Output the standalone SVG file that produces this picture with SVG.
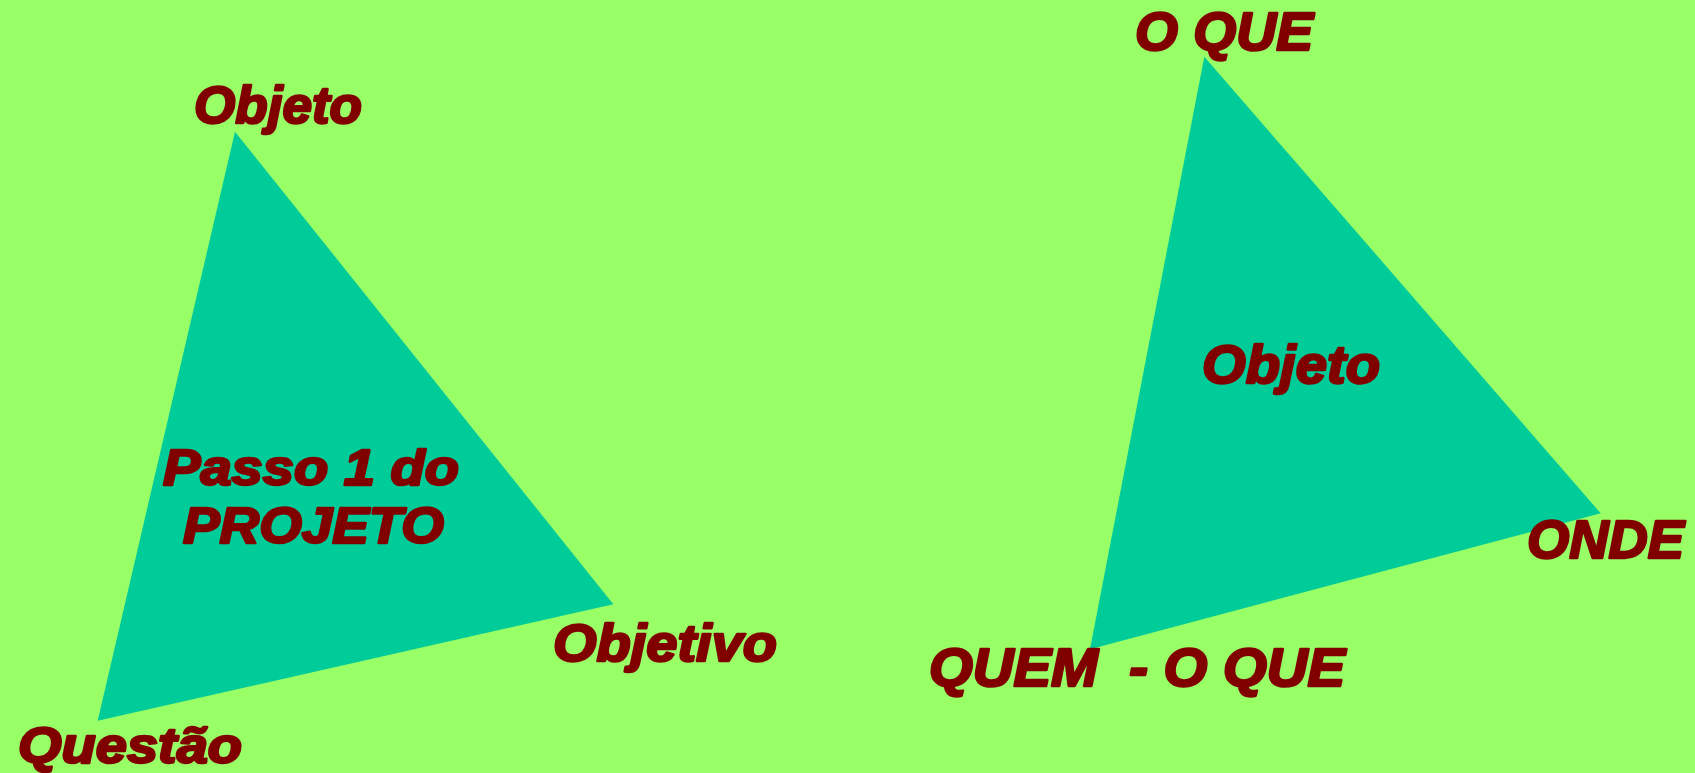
<svg xmlns="http://www.w3.org/2000/svg" width="1695" height="773" viewBox="0 0 1695 773">
<style>
.bg{fill:#99FF66}
.tri{fill:#00CC99}
.t{font-family:"Liberation Sans",Arial,sans-serif;font-weight:bold;font-style:italic;fill:#800000;stroke:#800000;stroke-width:2.5;stroke-linejoin:round}
</style>
<rect class="bg" x="0" y="0" width="1695" height="773"/>
<g id="triangle-left">
<polygon class="tri" points="235,131.7 613.3,604.3 97.7,720.7"/>
</g>
<g id="triangle-right">
<polygon class="tri" points="1204.3,56.7 1600.7,513.3 1090,649.3"/>
</g>
<g id="label-objeto-left">
<text class="t" x="194" y="123" font-size="52" textLength="168" lengthAdjust="spacingAndGlyphs">Objeto</text>
</g>
<g id="label-questao">
<text class="t" x="18" y="763" font-size="50" textLength="224" lengthAdjust="spacingAndGlyphs">Questão</text>
</g>
<g id="label-passo">
<text class="t" x="163" y="485" font-size="50" textLength="296" lengthAdjust="spacingAndGlyphs">Passo 1 do</text>
<text class="t" x="183" y="543" font-size="50" textLength="261" lengthAdjust="spacingAndGlyphs">PROJETO</text>
</g>
<g id="label-objetivo">
<text class="t" x="553" y="661" font-size="52" textLength="224" lengthAdjust="spacingAndGlyphs">Objetivo</text>
</g>
<g id="label-oque-top">
<text class="t" x="1135" y="50" font-size="53" textLength="178" lengthAdjust="spacingAndGlyphs">O QUE</text>
</g>
<g id="label-objeto-right">
<text class="t" x="1202" y="383" font-size="53" textLength="178" lengthAdjust="spacingAndGlyphs">Objeto</text>
</g>
<g id="label-onde">
<text class="t" x="1527" y="558" font-size="53" textLength="157" lengthAdjust="spacingAndGlyphs">ONDE</text>
</g>
<g id="label-quem">
<text class="t" x="929" y="686" font-size="53" textLength="416" lengthAdjust="spacingAndGlyphs" xml:space="preserve">QUEM  - O QUE</text>
</g>
<g id="connectors"></g>
</svg>
